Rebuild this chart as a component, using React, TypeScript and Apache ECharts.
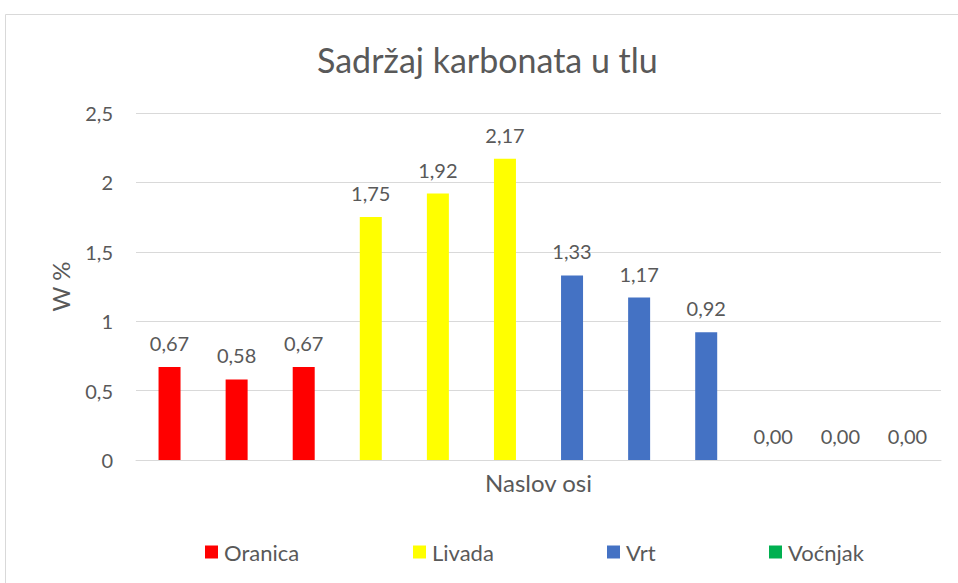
import React, { useEffect, useRef } from "react";
import * as echarts from "echarts";

const slots = ["1", "2", "3", "4", "5", "6", "7", "8", "9", "10", "11", "12"];
const oranica = [0.67, 0.58, 0.67, null, null, null, null, null, null, null, null, null];
const livada = [null, null, null, 1.75, 1.92, 2.17, null, null, null, null, null, null];
const vrt = [null, null, null, null, null, null, 1.33, 1.17, 0.92, null, null, null];
const vocnjak = [null, null, null, null, null, null, null, null, null, 0, 0, 0];
const seriesNames = ["Oranica", "Livada", "Vrt", "Voćnjak"];
const seriesColors = ["#FF0000", "#FFFF00", "#4472C4", "#00B050"];
const yTicks = [0, 0.5, 1, 1.5, 2, 2.5];

const FONT = "Lato, 'Open Sans', sans-serif";
const TXT = "#595959";

export default function App() {
  const ref = useRef<HTMLDivElement>(null);
  useEffect(() => {
    if (!ref.current) return;
    const chart = echarts.init(ref.current, undefined, { renderer: "svg" });
    const datas = [oranica, livada, vrt, vocnjak];
    const legendX = [205, 413, 607, 769];
    chart.setOption({
      animation: false,
      textStyle: { fontFamily: FONT },
      graphic: [
        {
          type: "rect",
          shape: { x: 5.5, y: 14.5, width: 1000, height: 600 },
          style: { fill: "none", stroke: "#d9d9d9", lineWidth: 1 },
          silent: true,
        },
      ],
      title: {
        text: "Sadržaj karbonata u tlu",
        left: 317,
        top: 42,
        padding: 0,
        textStyle: { fontFamily: FONT, fontSize: 34, fontWeight: "normal", color: TXT },
      },
      legend: seriesNames.map((n, i) => ({
        data: [n],
        left: legendX[i],
        top: 541,
        padding: 0,
        icon: "rect",
        itemWidth: 13,
        itemHeight: 13,
        itemGap: 4,
        textStyle: { fontFamily: FONT, fontSize: 22, color: TXT, padding: [0, 0, 0, 1] },
        selectedMode: false,
      })),
      grid: { left: 136, right: 17, top: 113, bottom: 123, containLabel: false },
      xAxis: {
        type: "category",
        data: slots,
        name: "Naslov osi",
        nameLocation: "middle",
        nameGap: 10,
        nameTextStyle: { fontFamily: FONT, fontSize: 24, color: TXT, verticalAlign: "top" },
        axisLabel: { show: false },
        axisTick: { show: false },
        axisLine: { lineStyle: { color: "#d9d9d9", width: 1 } },
      },
      yAxis: {
        type: "value",
        min: yTicks[0],
        max: yTicks[yTicks.length - 1],
        interval: 0.5,
        name: "W %",
        nameLocation: "middle",
        nameGap: 64,
        nameRotate: 90,
        nameTextStyle: { fontFamily: FONT, fontSize: 24, color: TXT },
        axisLabel: {
          fontFamily: FONT,
          fontSize: 20,
          color: TXT,
          margin: 23,
          formatter: (v: number) => String(v).replace(".", ","),
        },
        axisLine: { show: false },
        axisTick: { show: false },
        splitLine: { lineStyle: { color: "#d9d9d9", width: 1 } },
      },
      series: seriesNames.map((n, i) => ({
        name: n,
        type: "bar",
        data: datas[i],
        barWidth: 22,
        barGap: "-100%",
        itemStyle: { color: seriesColors[i] },
        label: {
          show: true,
          position: "top",
          distance: 14,
          fontFamily: FONT,
          fontSize: 20,
          color: TXT,
          formatter: (p: any) => (p.value == null ? "" : Number(p.value).toFixed(2).replace(".", ",")),
        },
      })),
    });
    return () => chart.dispose();
  }, []);
  return (
    <div
      ref={ref}
      style={{ position: "absolute", left: 0, top: 0, width: 958, height: 583, background: "#fff" }}
    />
  );
}
